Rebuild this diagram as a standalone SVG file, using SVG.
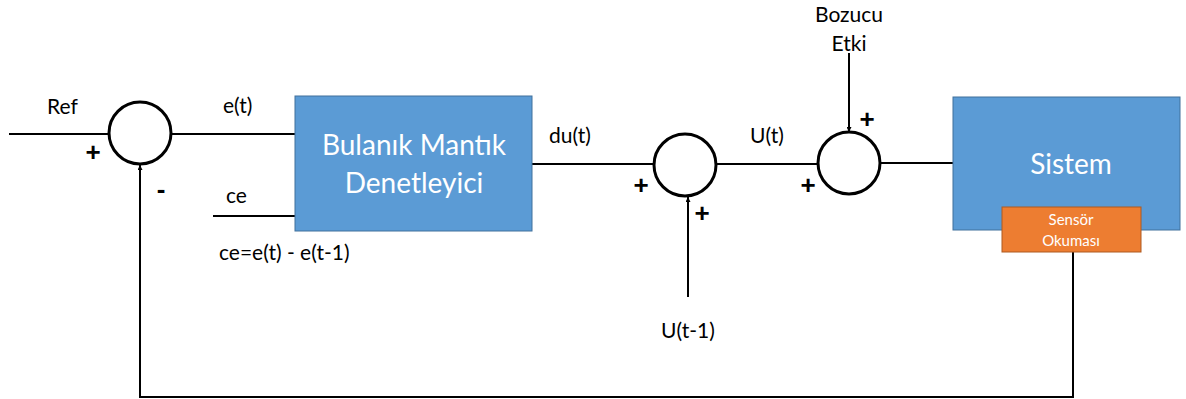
<svg xmlns="http://www.w3.org/2000/svg" width="1186" height="399" viewBox="0 0 1186 399">
<defs>
<marker id="arr" viewBox="0 0 10 10" refX="10" refY="5" markerWidth="5" markerHeight="5" orient="auto" markerUnits="userSpaceOnUse">
<path d="M0,0 L10,5 L0,10 z" fill="#000"/>
</marker>
<style>
.ln{fill:none;stroke:#000;stroke-width:2}
.sum{fill:#fff;stroke:#000;stroke-width:3}
.lbl{font-family:Lato,"Open Sans",sans-serif;font-size:21px;fill:#000}
.sgn{font-family:"Liberation Sans",sans-serif;font-size:26px;fill:#000;font-weight:bold}
.blue{fill:#5B9BD5;stroke:#41719C;stroke-width:1}
.wt{font-family:Lato,"Open Sans",sans-serif;fill:#fff;text-anchor:middle}
</style>
</defs>
<rect width="1186" height="399" fill="#fff"/>
<g id="connectors">
<line class="ln" x1="9" y1="134" x2="109" y2="134"/>
<line class="ln" x1="171" y1="134" x2="295" y2="134"/>
<line class="ln" x1="213" y1="216" x2="295" y2="216"/>
<line class="ln" x1="532" y1="164" x2="654" y2="164"/>
<line class="ln" x1="688" y1="297" x2="688" y2="197" marker-end="url(#arr)"/>
<line class="ln" x1="716" y1="164" x2="818" y2="164"/>
<line class="ln" x1="849" y1="53" x2="849" y2="132" marker-end="url(#arr)"/>
<line class="ln" x1="880" y1="163" x2="953" y2="163"/>
<polyline class="ln" points="1073,252 1073,397 140,397 140,165" marker-end="url(#arr)"/>
</g>
<g id="sum1">
<circle class="sum" cx="140" cy="133" r="31"/>
<text class="sgn" x="93" y="161" text-anchor="middle">+</text>
<text class="sgn" x="161" y="198" text-anchor="middle">-</text>
</g>
<g id="flc">
<rect class="blue" x="295" y="96" width="237" height="135"/>
<text class="wt" x="414" y="155" font-size="28">Bulanık Mantık</text>
<text class="wt" x="414" y="193" font-size="28">Denetleyici</text>
</g>
<g id="sum2">
<circle class="sum" cx="685" cy="165" r="31"/>
<text class="sgn" x="641" y="194" text-anchor="middle">+</text>
<text class="sgn" x="702" y="222" text-anchor="middle">+</text>
</g>
<g id="sum3">
<circle class="sum" cx="849" cy="163" r="31"/>
<text class="sgn" x="867" y="128" text-anchor="middle">+</text>
<text class="sgn" x="808" y="194" text-anchor="middle">+</text>
</g>
<g id="sistem">
<rect class="blue" x="953" y="97" width="227" height="133"/>
<text class="wt" x="1071" y="174" font-size="28">Sistem</text>
</g>
<g id="sensor">
<rect x="1002" y="207" width="139" height="45" fill="#ED7D31" stroke="#AE5A21" stroke-width="1"/>
<text class="wt" x="1071" y="225" font-size="15">Sensör</text>
<text class="wt" x="1071" y="246" font-size="15">Okuması</text>
</g>
<g id="labels">
<text class="lbl" x="47" y="114">Ref</text>
<text class="lbl" x="223" y="113">e(t)</text>
<text class="lbl" x="226" y="203">ce</text>
<text class="lbl" x="219" y="260">ce=e(t) - e(t-1)</text>
<text class="lbl" x="549" y="143">du(t)</text>
<text class="lbl" x="750" y="143">U(t)</text>
<text class="lbl" x="688" y="338" text-anchor="middle">U(t-1)</text>
<text class="lbl" x="849" y="22" text-anchor="middle">Bozucu</text>
<text class="lbl" x="849" y="51" text-anchor="middle">Etki</text>
</g>
</svg>
